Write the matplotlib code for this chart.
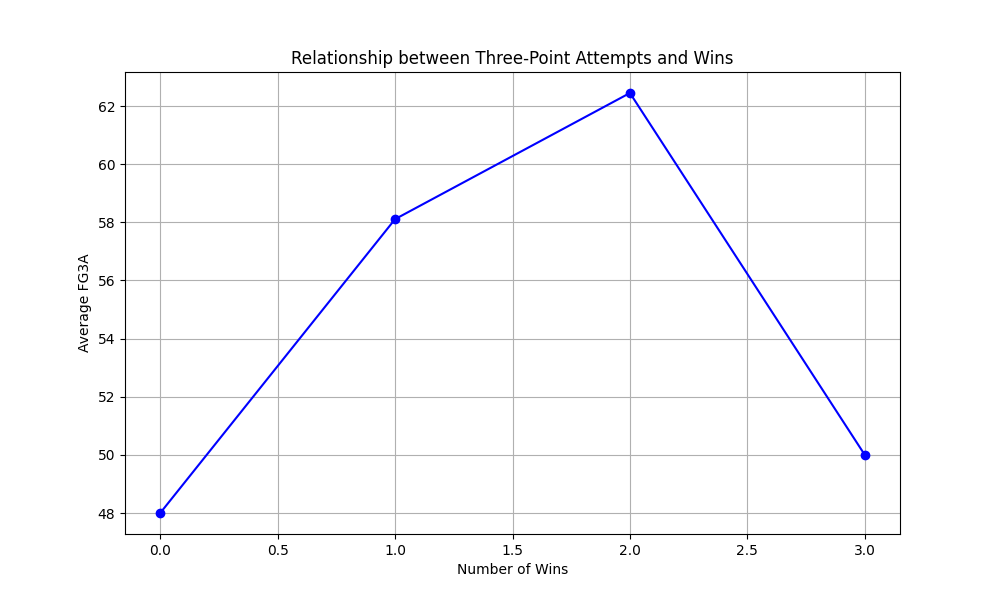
import matplotlib
matplotlib.use('Agg')
import matplotlib.pyplot as plt

# wins vs average three-point attempts
wins = [0, 1, 2, 3]
avg_fg3a = [48.0, 58.11, 62.45, 50.0]

plt.figure(figsize=(10, 6))
plt.plot(wins, avg_fg3a, marker='o', color='blue')
plt.title('Relationship between Three-Point Attempts and Wins')
plt.xlabel('Number of Wins')
plt.ylabel('Average FG3A')
plt.grid(True)
plt.savefig('out.png', dpi=100)
